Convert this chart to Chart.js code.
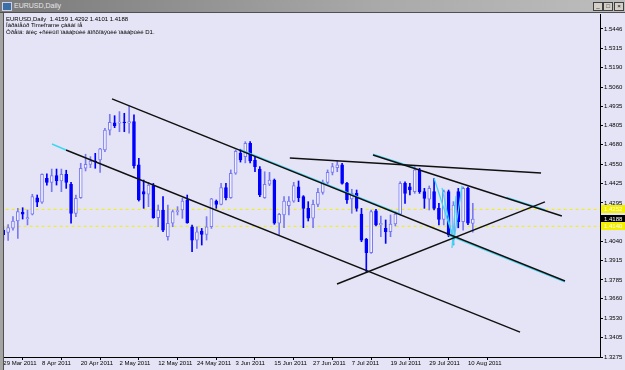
<!DOCTYPE html>
<html><head><meta charset="utf-8">
<script src="https://cdn.jsdelivr.net/npm/chart.js@4.4.0/dist/chart.umd.min.js"></script>
<style>
html,body{margin:0;padding:0;background:#e4e4f6;}
#wrap{position:relative;width:625px;height:370px;overflow:hidden;background:#e4e4f6;font-family:'Liberation Sans',Arial,sans-serif;}
#c{position:absolute;left:0;top:0;}
#tb{position:absolute;left:0;top:0;width:625px;height:12px;background:linear-gradient(to right,#7a7a7a,#a9a9a9 60%,#bdbdbd);border-bottom:1px solid #505050;}
#tb .ic{position:absolute;left:2px;top:2px;width:8px;height:7px;background:#3a6ea5;border:1px solid #d0d0e8;}
#tb .tt{position:absolute;left:14px;top:1px;font-size:7px;line-height:10px;color:#e6e6e6;}
#tb .bt{position:absolute;top:2px;width:8px;height:7px;background:#d4d0c8;border:1px solid #404040;font-size:6px;line-height:7px;text-align:center;color:#000;}
#lb{position:absolute;left:0;top:13px;width:3px;height:357px;background:#a4a4a4;border-right:1px solid #505050;}
.info{position:absolute;left:6px;font-size:6px;line-height:7px;color:#000;white-space:nowrap;}
</style></head>
<body><div id="wrap">
<canvas id="c" width="625" height="370"></canvas>
<div id="tb"><div class="ic"></div><div class="tt">EURUSD,Daily</div>
<div class="bt" style="left:593px">_</div><div class="bt" style="left:603px">□</div><div class="bt" style="left:614px">×</div></div>
<div id="lb"></div>
<div class="info" style="top:16px">EURUSD,Daily&nbsp; 1.4159 1.4292 1.4101 1.4188</div>
<div class="info" style="top:22px">Ïàðàìåòð Timeframe çàäàí íå</div>
<div class="info" style="top:29px">Òðåíä: âíèç +ñèëüíî ïàäàþùèé âîñõîäÿùèé ïàäàþùèé D1.</div>
</div>
<script>
// ---- data ----
const dateLabels = ['29 Mar 2011','8 Apr 2011','20 Apr 2011','2 May 2011','12 May 2011','24 May 2011','3 Jun 2011','15 Jun 2011','27 Jun 2011','7 Jul 2011','19 Jul 2011','29 Jul 2011','10 Aug 2011'];
const dateBarIndex = [0,8,16,24,32,40,48,56,64,72,80,88,96];
const yTickLabels = ['1.5446','1.5315','1.5190','1.5060','1.4935','1.4805','1.4680','1.4550','1.4425','1.4295','1.4040','1.3915','1.3785','1.3660','1.3530','1.3405','1.3275'];

const openP  = [1.4115,1.4100,1.4127,1.4175,1.4233,1.4190,1.4220,1.4329,1.4299,1.4458,1.4431,1.4475,1.4440,1.4484,1.4418,1.4226,1.4329,1.4524,1.4550,1.4572,1.4579,1.4645,1.4777,1.4824,1.4822,1.4830,1.4822,1.4833,1.4546,1.4369,1.4352,1.4409,1.4197,1.4248,1.4071,1.4160,1.4236,1.4248,1.4314,1.4137,1.4049,1.4109,1.4087,1.4137,1.4307,1.4285,1.4396,1.4329,1.4491,1.4625,1.4600,1.4689,1.4579,1.4519,1.4329,1.4418,1.4446,1.4160,1.4215,1.4276,1.4307,1.4402,1.4336,1.4259,1.4193,1.4285,1.4365,1.4431,1.4497,1.4528,1.4546,1.4424,1.4321,1.4358,1.4221,1.4054,1.3966,1.4243,1.4149,1.4127,1.4104,1.4155,1.4221,1.4424,1.4402,1.4369,1.4513,1.4369,1.4319,1.4369,1.4259,1.4186,1.4369,1.4082,1.4369,1.4170,1.4391,1.4159];
const highP  = [1.4138,1.4151,1.4204,1.4259,1.4263,1.4248,1.4352,1.4347,1.4488,1.4488,1.4519,1.4519,1.4519,1.4511,1.4431,1.4347,1.4557,1.4617,1.4601,1.4623,1.4656,1.4789,1.4881,1.4872,1.4899,1.4888,1.4935,1.4877,1.4590,1.4446,1.4431,1.4424,1.4281,1.4336,1.4281,1.4248,1.4270,1.4325,1.4347,1.4148,1.4137,1.4126,1.4204,1.4325,1.4314,1.4424,1.4424,1.4513,1.4645,1.4650,1.4700,1.4700,1.4601,1.4535,1.4501,1.4497,1.4453,1.4226,1.4336,1.4336,1.4431,1.4440,1.4343,1.4303,1.4314,1.4391,1.4446,1.4513,1.4557,1.4572,1.4557,1.4431,1.4385,1.4380,1.4259,1.4060,1.4248,1.4252,1.4208,1.4182,1.4215,1.4237,1.4435,1.4435,1.4424,1.4535,1.4524,1.4391,1.4407,1.4458,1.4292,1.4380,1.4380,1.4303,1.4391,1.4400,1.4400,1.4292];
const lowP   = [1.4049,1.4047,1.4115,1.4060,1.4188,1.4149,1.4215,1.4270,1.4292,1.4413,1.4369,1.4413,1.4369,1.4391,1.4160,1.4204,1.4325,1.4506,1.4528,1.4524,1.4497,1.4634,1.4744,1.4793,1.4766,1.4766,1.4756,1.4524,1.4307,1.4259,1.4270,1.4193,1.4137,1.4104,1.4049,1.4137,1.4215,1.4193,1.4160,1.3972,1.3994,1.4016,1.4049,1.4126,1.4259,1.4281,1.4314,1.4325,1.4484,1.4565,1.4560,1.4560,1.4501,1.4336,1.4325,1.4409,1.4153,1.4082,1.4131,1.4215,1.4299,1.4303,1.4131,1.4175,1.4131,1.4270,1.4352,1.4418,1.4480,1.4501,1.4418,1.4292,1.4226,1.4240,1.4038,1.3833,1.3961,1.4142,1.4071,1.4027,1.4071,1.4142,1.4215,1.4292,1.4347,1.4358,1.4358,1.4259,1.4248,1.4248,1.4149,1.4149,1.4071,1.4016,1.4130,1.4115,1.4150,1.4101];
const closeP = [1.4085,1.4131,1.4175,1.4237,1.4220,1.4197,1.4336,1.4299,1.4484,1.4431,1.4475,1.4442,1.4484,1.4431,1.4226,1.4325,1.4524,1.4550,1.4572,1.4566,1.4652,1.4777,1.4828,1.4806,1.4830,1.4826,1.4833,1.4541,1.4314,1.4352,1.4413,1.4197,1.4248,1.4115,1.4160,1.4237,1.4244,1.4307,1.4162,1.4049,1.4104,1.4087,1.4137,1.4321,1.4285,1.4396,1.4329,1.4491,1.4636,1.4580,1.4689,1.4572,1.4535,1.4347,1.4418,1.4446,1.4160,1.4219,1.4307,1.4307,1.4409,1.4329,1.4259,1.4193,1.4285,1.4365,1.4431,1.4497,1.4535,1.4546,1.4424,1.4314,1.4358,1.4259,1.4049,1.3966,1.4237,1.4149,1.4160,1.4104,1.4155,1.4221,1.4424,1.4358,1.4380,1.4513,1.4369,1.4325,1.4391,1.4259,1.4186,1.4369,1.4082,1.4281,1.4170,1.4391,1.4160,1.4188];

// trend lines: [barIndex, price] end points
const channelUpper = [[22.46,1.4983],[116.05,1.3778]];
const channelLower = [[12.95,1.4645],[106.76,1.3440]];
const channelLowerTip = [[10.06,1.4685],[12.95,1.4645]];
const resistance = [[59.2,1.4592],[111.1,1.4493]];
const innerDown = [[76.38,1.4612],[115.4,1.4208]];
const risingSupport = [[68.95,1.3758],[111.9,1.4301]];
const cyanSegments = [
  [[49,1.4648],[82,1.4223]],
  [[92,1.4079],[116,1.3771]],
  [[76.38,1.4618],[85,1.4529]],
  [[104,1.4332],[112,1.4249]],
  [[88.99,1.4460],[93.12,1.4049]],
  [[90.64,1.4394],[93.12,1.4016]],
  [[94.77,1.4407],[93.12,1.4049]],
  [[93.53,1.4341],[92.7,1.3996]]
];
const yellowLevels = [1.4252, 1.4140];

// ---- build ----
const BULL='#7a7af0', BEAR='#0000ff', BULLFILL='#f2f2ff';
const isBull = closeP.map((c,i)=>c>=openP[i]);
const pts = a => a.map(p=>({x:p[0],y:p[1]}));
const lineDs = (a,color,w,order) => ({type:'line',data:pts(a),borderColor:color,borderWidth:w,pointRadius:0,fill:false,order:order,tension:0});

const datasets = [];
cyanSegments.forEach(s=>datasets.push(lineDs(s,'#3cd8f0',1.2,1)));
datasets.push(lineDs(channelLowerTip,'#3cd8f0',1.5,0));
[channelUpper,channelLower,resistance,innerDown,risingSupport].forEach(s=>datasets.push(lineDs(s,'#101010',1.4,0)));
yellowLevels.forEach(v=>datasets.push({type:'line',data:[{x:-2,y:v},{x:130,y:v}],borderColor:'#f4f000',borderWidth:1,borderDash:[3,3],pointRadius:0,order:4}));
datasets.push({type:'bar',data:closeP.map((c,i)=>({x:i,y:[lowP[i],highP[i]]})),backgroundColor:isBull.map(b=>b?BULL:BEAR),barThickness:1,grouped:false,order:3});
datasets.push({type:'bar',data:closeP.map((c,i)=>({x:i,y:[Math.min(openP[i],c),Math.max(openP[i],c)]})),backgroundColor:isBull.map(b=>b?BULLFILL:BEAR),borderColor:isBull.map(b=>b?BULL:BEAR),borderWidth:1,borderSkipped:false,barThickness:3,grouped:false,order:2});

const priceBoxes = {
  id:'priceBoxes',
  afterDraw(chart){
    const ctx=chart.ctx, y=chart.scales.y, left=chart.chartArea.right+1;
    const boxes=[[yellowLevels[0],'#f4f000','#ffffff'],[closeP[closeP.length-1],'#000000','#ffffff'],[yellowLevels[1],'#f4f000','#ffffff']];
    ctx.save();
    ctx.font='6px "Liberation Sans", Arial';
    ctx.textBaseline='middle';
    boxes.forEach(b=>{
      const py=Math.round(y.getPixelForValue(b[0]));
      ctx.fillStyle=b[1]; ctx.fillRect(left,py-4,24,8);
      ctx.fillStyle=b[2]; ctx.fillText(b[0].toFixed(4),left+3,py+0.5);
    });
    ctx.restore();
  }
};
const bg = {id:'bg',beforeDraw(chart){const c=chart.ctx;c.save();c.fillStyle='#e4e4f6';c.fillRect(0,0,chart.width,chart.height);c.restore();}};

new Chart(document.getElementById('c'),{
  type:'bar',
  data:{datasets},
  options:{
    responsive:false,animation:false,devicePixelRatio:1,
    layout:{padding:{left:3,top:14,right:0,bottom:0}},
    plugins:{legend:{display:false},tooltip:{enabled:false}},
    scales:{
      x:{type:'linear',offset:false,min:-0.06,max:123.28,
        afterBuildTicks(s){s.ticks=dateBarIndex.map(v=>({value:v}));},
        afterFit(s){s.height=13;},
        grid:{display:true,drawOnChartArea:false,drawTicks:true,tickLength:3,color:'#000'},
        border:{display:true,color:'#000',width:1},
        ticks:{autoSkip:false,maxRotation:0,minRotation:0,align:'start',padding:0,color:'#000',font:{family:'Liberation Sans',size:6},callback:(v,i)=>dateLabels[i]}
      },
      y:{type:'linear',position:'right',min:1.3275,max:1.5545,
        afterBuildTicks(s){s.ticks=yTickLabels.map(t=>({value:parseFloat(t)}));},
        afterFit(s){s.width=25;},
        grid:{display:true,drawOnChartArea:false,drawTicks:true,tickLength:3,color:'#000'},
        border:{display:true,color:'#000',width:1},
        ticks:{autoSkip:false,padding:1,color:'#000',font:{family:'Liberation Sans',size:6},callback:(v,i)=>yTickLabels[i]}
      }
    }
  },
  plugins:[bg,priceBoxes]
});
</script>
</body></html>
